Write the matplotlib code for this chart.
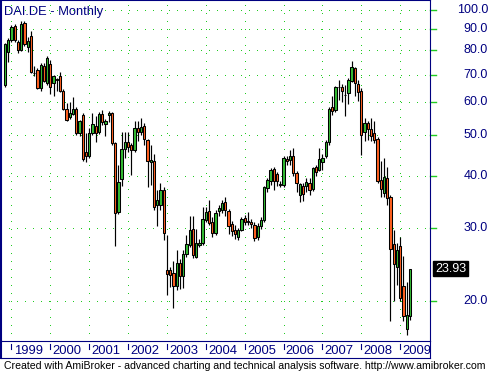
import matplotlib
matplotlib.use('Agg')
import matplotlib.pyplot as plt
import numpy as np

# monthly bars, first one is Nov 1998 (month index -2, Jan 1999 = 0)
first_month = -2
opens = [66.0, 79.1, 84.7, 91.7, 83.6, 80.1, 92.9, 81.4, 86.5, 70.6,
         71.8, 64.9, 73.5, 66.7, 74.0, 66.7, 68.2, 69.4, 63.9, 58.0,
         55.2, 56.3, 57.8, 50.6, 56.0, 45.5, 44.6, 50.6, 52.6, 51.0,
         56.2, 53.1, 55.8, 56.5, 47.8, 32.8, 39.2, 46.3, 48.1, 47.4,
         46.1, 52.0, 51.0, 52.6, 48.6, 43.2, 43.5, 34.0, 34.0, 36.9,
         23.8, 23.7, 23.3, 21.7, 24.7, 23.0, 25.9, 27.2, 29.8, 25.5,
         27.3, 27.5, 31.3, 32.9, 31.0, 29.1, 32.9, 33.0, 34.6, 32.9,
         30.7, 29.7, 28.5, 29.7, 31.7, 31.1, 30.9, 30.5, 28.5, 30.3,
         31.3, 37.3, 38.9, 41.4, 40.3, 38.1, 38.0, 43.8, 43.6, 44.5,
         40.5, 36.0, 37.8, 37.7, 38.5, 37.1, 41.9, 41.3, 43.2, 44.6,
         48.2, 58.4, 57.5, 65.5, 65.2, 62.6, 63.3, 67.6, 72.4, 66.4,
         64.0, 50.8, 53.4, 51.9, 50.6, 48.9, 39.0, 36.3, 39.4, 35.5,
         27.4, 24.2, 27.1, 21.7, 17.1, 18.4]
highs = [83.5, 85.5, 92.0, 92.5, 84.5, 94.1, 94.1, 86.0, 89.2, 73.5,
         72.5, 74.5, 74.5, 77.5, 76.0, 70.0, 68.8, 71.0, 64.5, 59.8,
         60.0, 61.7, 58.5, 54.5, 56.5, 50.7, 52.0, 56.6, 55.6, 57.0,
         57.5, 54.8, 57.3, 57.0, 48.2, 42.4, 51.0, 50.8, 50.8, 48.0,
         54.1, 54.0, 54.9, 53.5, 49.0, 47.5, 45.2, 37.0, 38.5, 37.5,
         28.8, 24.2, 25.0, 26.5, 25.2, 26.5, 28.8, 32.0, 32.0, 29.8,
         28.2, 33.7, 33.6, 35.0, 31.8, 33.0, 34.0, 35.0, 35.5, 33.2,
         31.2, 30.5, 30.0, 31.8, 32.2, 32.8, 31.5, 31.0, 30.8, 31.8,
         37.8, 39.5, 41.8, 42.0, 40.8, 38.8, 44.5, 44.5, 46.0, 46.5,
         41.0, 38.5, 38.5, 39.5, 39.5, 42.0, 42.5, 46.5, 45.0, 48.8,
         58.5, 62.0, 65.8, 67.9, 66.5, 66.0, 68.5, 75.4, 73.1, 68.0,
         65.0, 55.0, 54.0, 55.0, 54.0, 49.5, 43.5, 44.0, 42.0, 36.0,
         29.6, 27.5, 28.5, 25.6, 22.2, 23.93]
lows = [65.5, 75.1, 84.0, 84.0, 78.7, 79.5, 82.0, 79.4, 70.5, 69.4,
        64.5, 64.0, 67.0, 66.0, 63.0, 62.2, 63.9, 63.5, 57.5, 54.0,
        54.8, 56.0, 50.1, 49.9, 43.5, 43.2, 44.0, 50.0, 48.1, 50.5,
        53.0, 49.9, 53.9, 47.5, 27.1, 32.3, 37.8, 44.0, 45.5, 40.1,
        45.5, 48.4, 50.0, 47.5, 37.6, 38.0, 33.0, 30.2, 33.0, 28.0,
        20.7, 21.6, 19.2, 21.3, 21.4, 21.5, 25.5, 27.0, 25.3, 25.3,
        26.9, 27.3, 31.0, 30.5, 28.5, 28.8, 32.0, 32.5, 32.0, 29.0,
        28.6, 28.2, 28.0, 29.5, 30.5, 30.4, 30.0, 27.9, 28.0, 29.8,
        31.0, 36.5, 38.0, 37.0, 37.8, 37.5, 37.5, 42.5, 42.5, 40.0,
        36.5, 34.5, 34.8, 36.5, 36.0, 36.8, 40.0, 41.0, 41.3, 44.0,
        47.5, 56.0, 57.0, 60.8, 60.0, 55.5, 59.5, 67.0, 62.0, 60.5,
        44.8, 48.5, 48.8, 48.5, 48.0, 38.5, 35.5, 35.5, 34.0, 17.9,
        20.0, 21.9, 20.0, 17.9, 16.6, 18.0]
closes = [82.8, 84.7, 90.9, 84.7, 80.3, 92.4, 82.7, 84.2, 70.9, 70.4,
          64.9, 73.8, 67.6, 76.6, 65.2, 69.5, 67.9, 63.9, 58.0, 54.4,
          56.7, 57.8, 50.6, 54.1, 43.8, 44.6, 50.7, 53.1, 50.6, 56.2,
          53.7, 54.2, 56.5, 47.8, 32.5, 38.6, 46.3, 48.1, 46.8, 46.1,
          52.0, 51.0, 52.4, 48.9, 43.5, 43.7, 33.7, 35.0, 36.9, 29.2,
          23.2, 23.1, 21.7, 24.7, 23.0, 26.0, 27.4, 29.6, 25.8, 27.5,
          27.6, 31.5, 32.7, 30.8, 29.1, 32.6, 33.4, 34.3, 33.1, 30.3,
          29.5, 28.9, 29.7, 31.4, 31.0, 30.9, 30.7, 28.4, 30.3, 31.3,
          37.5, 39.0, 41.3, 38.8, 38.8, 38.0, 44.0, 43.3, 44.5, 40.5,
          38.4, 38.2, 36.1, 38.6, 36.9, 41.8, 40.9, 43.8, 44.1, 48.2,
          57.7, 57.3, 65.2, 65.2, 64.0, 62.4, 67.9, 72.8, 66.7, 63.7,
          50.1, 53.4, 51.9, 49.8, 48.7, 38.9, 37.1, 39.8, 35.3, 26.6,
          24.5, 26.5, 20.3, 18.4, 18.5, 23.93]

years = [1999, 2000, 2001, 2002, 2003, 2004, 2005, 2006, 2007, 2008, 2009]
price_levels = [20, 30, 40, 50, 60, 70, 80, 90, 100]
last_price = 23.93

navy = '#000080'
gridgreen = '#22cc22'
upcol = '#33bb33'
downcol = '#ff6020'
W, H = 491, 371
font = ['Liberation Sans', 'DejaVu Sans']

fig = plt.figure(figsize=(W / 100, H / 100), dpi=100, facecolor='white')
# main price pane: x 1..430 px, y 0..341 px
ax = fig.add_axes([1 / W, 1 - 341 / H, 429 / W, 341 / H])
ax.set_yscale('log')
ax.set_ylim(16.03, 105.7)
ax.set_xlim(-3.24, 129.2)
ax.set_xticks([])
ax.set_yticks([])
ax.yaxis.set_minor_locator(matplotlib.ticker.NullLocator())
for s in ax.spines.values():
    s.set_color(navy)
    s.set_linewidth(0.8)
ax.spines['left'].set_linewidth(1.5)
ax.spines['top'].set_linewidth(1.5)

# dotted green grid
dots = (0, (1, 7))
for p in price_levels:
    ax.axhline(p, color=gridgreen, lw=0.72, linestyle=dots, antialiased=False, zorder=0)
year_pos = [12 * i for i in range(len(years))]
for xm in year_pos:
    ax.axvline(xm, color=gridgreen, lw=0.72, linestyle=dots, antialiased=False, zorder=0)

# candles
xs = np.arange(first_month, first_month + len(opens))
o = np.array(opens)
c = np.array(closes)
ax.vlines(xs, lows, highs, color='black', lw=0.85, zorder=2)
cols = [upcol if cc >= oo else downcol for oo, cc in zip(o, c)]
bottoms = np.minimum(o, c)
heights = np.maximum(np.abs(c - o), 0.08)
ax.bar(xs, heights, bottom=bottoms, width=0.7, color=cols,
       edgecolor='black', linewidth=0.75, zorder=3)

# right side labels and green ticks
for p in price_levels:
    ax.plot([1.0, 1.0 + 6 / 429], [p, p], color=gridgreen, lw=1,
            transform=ax.get_yaxis_transform(), clip_on=False)
    ax.text(1.0 + 58 / 429, p, f'{p:.1f}', color=navy, fontsize=9, family=font,
            ha='right', va='center', transform=ax.get_yaxis_transform())

ax.text(1.0 + 20.5 / 429, last_price, f'{last_price:.2f}', color='white', fontsize=9,
        family=font, ha='center', va='center', transform=ax.get_yaxis_transform(),
        bbox=dict(boxstyle='square,pad=0.12', fc='black', ec='black'))

# title
fig.text(4 / W, 1 - 15 / H, 'DAI.DE - Monthly', color=navy, fontsize=9.3,
         family=font, ha='left', va='baseline')

# date band under the chart
bx = fig.add_axes([1 / W, 1 - 358 / H, 429 / W, 17 / H])
bx.set_xlim(-3.24, 129.2)
bx.set_ylim(0, 1)
bx.set_xticks([])
bx.set_yticks([])
bx.patch.set_alpha(0)
for s in bx.spines.values():
    s.set_color(navy)
    s.set_linewidth(0.8)
bx.spines['left'].set_linewidth(1.5)
bx.spines['top'].set_visible(False)
for xm, yr in zip(year_pos, years):
    bx.plot([xm, xm], [0.55, 0.85], color=navy, lw=0.8)
    bx.text(xm + 0.7, 0.42, str(yr), color=navy, fontsize=9.4, family=font,
            ha='left', va='center', clip_on=False)

fig.text(4 / W, 1 - 366 / H,
         'Created with AmiBroker - advanced charting and technical analysis software. http://www.amibroker.com',
         color='black', fontsize=7.6, family=font, ha='left', va='center')

fig.savefig('out.png', dpi=100, facecolor='white')
